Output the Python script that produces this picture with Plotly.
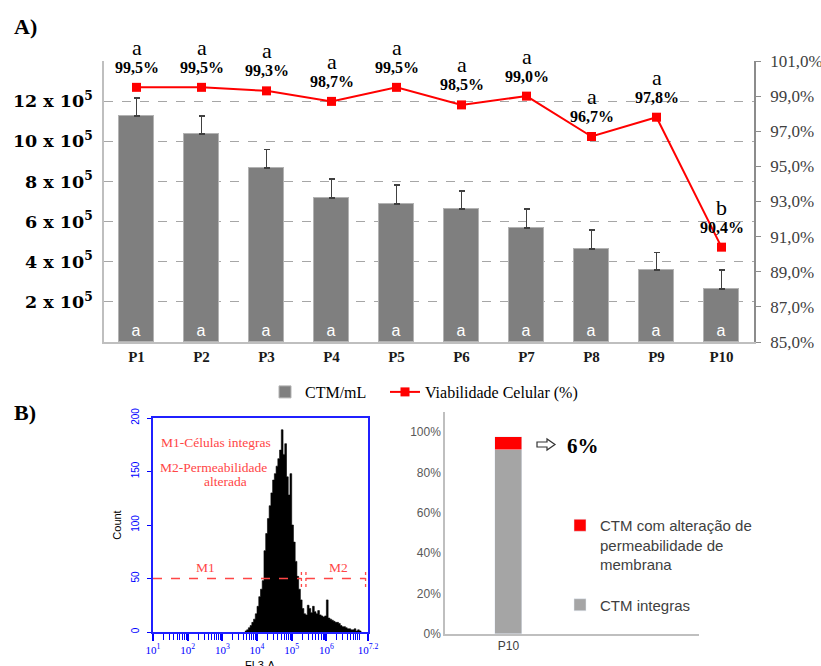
import plotly.graph_objects as go

W, H = 821, 666

# ---------------- data ----------------
categories = ['P1', 'P2', 'P3', 'P4', 'P5', 'P6', 'P7', 'P8', 'P9', 'P10']
ctm_values = [11.27e5, 10.37e5, 8.68e5, 7.18e5, 6.88e5, 6.63e5, 5.68e5, 4.63e5, 3.58e5, 2.63e5]
ctm_err = [0.88e5, 0.90e5, 0.90e5, 0.95e5, 0.94e5, 0.90e5, 0.94e5, 0.94e5, 0.89e5, 0.95e5]
ctm_letters = ['a'] * 10
viab_values = [99.5, 99.5, 99.3, 98.7, 99.5, 98.5, 99.0, 96.7, 97.8, 90.4]
viab_labels = ['99,5%', '99,5%', '99,3%', '98,7%', '99,5%', '98,5%', '99,0%', '96,7%', '97,8%', '90,4%']
viab_letters = ['a', 'a', 'a', 'a', 'a', 'a', 'a', 'a', 'a', 'b']

left_tickvals = [0, 2e5, 4e5, 6e5, 8e5, 10e5, 12e5, 14e5]
left_ticktext = ['', '2 x 10<sup>5</sup>', '4 x 10<sup>5</sup>', '6 x 10<sup>5</sup>',
                 '8 x 10<sup>5</sup>', '10 x 10<sup>5</sup>', '12 x 10<sup>5</sup>', '']
right_tickvals = [85, 87, 89, 91, 93, 95, 97, 99, 101]
right_ticktext = ['85,0%', '87,0%', '89,0%', '91,0%', '93,0%', '95,0%', '97,0%', '99,0%', '101,0%']

# flow cytometry histogram (FL3-A), bins in log10 units
hist_log_start = 3.65
hist_bin_width = 0.05
hist_counts = [1, 2, 4, 6, 9, 12, 17, 24, 33, 40, 48, 76, 92, 106, 118, 130, 142, 148, 155, 162,
               170, 189, 166, 176, 145, 128, 148, 100, 84, 66, 52, 40, 30, 22, 17, 16, 25, 22, 18, 24,
               19, 17, 20, 16, 15, 14, 15, 30, 13, 12, 11, 10, 9, 9, 8, 6, 5, 5, 4, 3,
               3, 2, 2, 3, 1, 2, 1]
hist_tick_exps = [1, 2, 3, 4, 5, 6, 7.2]
hist_tick_text = ['10<sup>1</sup>', '10<sup>2</sup>', '10<sup>3</sup>', '10<sup>4</sup>',
                  '10<sup>5</sup>', '10<sup>6</sup>', '10<sup>7.2</sup>']
gate_level = 50
gate_m1 = [1.0, 5.28]
gate_m2 = [5.41, 7.13]

# membrane permeability (P10)
perm_category = ['P10']
perm_integras = [91.4]
perm_alteradas = [6.0]
perm_tickvals = [0, 20, 40, 60, 80, 100]
perm_ticktext = ['0%', '20%', '40%', '60%', '80%', '100%']


def fx(p):
    return p / W


def fy(p):
    return 1 - p / H


SERIF = 'Liberation Serif'
SANS = 'Liberation Sans'
red = '#ff4646'

fig = go.Figure()

# ---------------- panel A ----------------
fig.add_trace(go.Bar(
    x=categories, y=ctm_values, name='CTM/mL', width=0.55,
    marker=dict(color='#7f7f7f', line=dict(color='#b3b3b3', width=1)),
    error_y=dict(type='data', array=ctm_err, arrayminus=[0] * len(ctm_err), symmetric=False,
                 color='#404040', thickness=1.5, width=3),
    text=ctm_letters, textposition='inside', insidetextanchor='start', textangle=0,
    textfont=dict(color='white', size=16, family=SANS),
    xaxis='x', yaxis='y', legend='legend'))
fig.add_trace(go.Scatter(
    x=categories, y=viab_values, name='Viabilidade Celular (%)', mode='lines+markers',
    line=dict(color='#ff0000', width=2),
    marker=dict(symbol='square', size=9, color='#ff0000'),
    xaxis='x', yaxis='y2', legend='legend3'))

# ---------------- panel B histogram ----------------
edges = [10 ** (hist_log_start + i * hist_bin_width) for i in range(len(hist_counts) + 1)]
fig.add_trace(go.Scatter(
    x=edges, y=hist_counts + [0], mode='lines', line_shape='hv',
    line=dict(color='black', width=0.6), fill='tozeroy', fillcolor='black',
    xaxis='x2', yaxis='y3', showlegend=False, hoverinfo='skip'))

# ---------------- panel B stacked bar ----------------
fig.add_trace(go.Bar(
    x=[0], y=perm_integras, name='CTM integras', width=0.22, legendrank=2,
    marker=dict(color='#a5a5a5'), xaxis='x3', yaxis='y4',
    legend='legend2', legendgroup='g2'))
fig.add_trace(go.Bar(
    x=[0], y=perm_alteradas, name='CTM com alteração de<br>permeabilidade de<br>membrana', width=0.22,
    legendrank=1, marker=dict(color='#ff0000'), xaxis='x3', yaxis='y4',
    legend='legend2', legendgroup='g1'))

annotations = []
for c, v, lab, let in zip(categories, viab_values, viab_labels, viab_letters):
    annotations.append(dict(x=c, y=v, xref='x', yref='y2', text=lab, showarrow=False,
                            xanchor='center', yshift=20,
                            font=dict(family=SERIF, size=16, color='black', weight='bold')))
    annotations.append(dict(x=c, y=v, xref='x', yref='y2', text=let, showarrow=False,
                            xanchor='center', yshift=40, font=dict(family=SERIF, size=22, color='black')))

annotations += [
    dict(x=fx(12), y=fy(26), xref='paper', yref='paper', xanchor='left', yanchor='middle',
         text='A)', showarrow=False, font=dict(family=SERIF, size=22, color='black', weight='bold')),
    dict(x=fx(12), y=fy(412), xref='paper', yref='paper', xanchor='left', yanchor='middle',
         text='B)', showarrow=False, font=dict(family=SERIF, size=22, color='black', weight='bold')),
    dict(x=0.03, y=177, xref='x2 domain', yref='y3', xanchor='left', text='M1-Células integras',
         showarrow=False, font=dict(family=SERIF, size=13.5, color=red)),
    dict(x=0.025, y=154, xref='x2 domain', yref='y3', xanchor='left', text='M2-Permeabilidade',
         showarrow=False, font=dict(family=SERIF, size=13.5, color=red)),
    dict(x=0.335, y=141, xref='x2 domain', yref='y3', xanchor='center', text='alterada', showarrow=False,
         font=dict(family=SERIF, size=13.5, color=red)),
    dict(x=0.242, y=60, xref='x2 domain', yref='y3', xanchor='center', text='M1', showarrow=False,
         font=dict(family=SERIF, size=13.5, color=red)),
    dict(x=0.862, y=60, xref='x2 domain', yref='y3', xanchor='center', text='M2', showarrow=False,
         font=dict(family=SERIF, size=13.5, color=red)),
    dict(x=0.5, y=fy(665), xref='x2 domain', yref='paper', xanchor='center', yanchor='middle',
         text='FL3-A', showarrow=False, font=dict(family=SANS, size=11, color='black')),
    dict(x=fx(583), y=fy(446), xref='paper', yref='paper', xanchor='center', yanchor='middle',
         text='6%', showarrow=False, font=dict(family=SERIF, size=21, color='black', weight='bold')),
]

# hollow right arrow (pixel outline converted to paper coordinates)
arrow_px = [(537, 442), (547, 442), (547, 439), (555, 444.5), (547, 450), (547, 447), (537, 447)]
arrow_path = 'M ' + ' L '.join(f'{fx(px)},{fy(py)}' for px, py in arrow_px) + ' Z'

shapes = [
    dict(type='line', xref='x2', yref='y3', x0=10 ** gate_m1[0], x1=10 ** gate_m1[1], y0=gate_level, y1=gate_level,
         line=dict(color=red, width=1.3, dash='dash')),
    dict(type='line', xref='x2', yref='y3', x0=10 ** gate_m1[1], x1=10 ** gate_m1[1], y0=gate_level - 8, y1=gate_level + 8,
         line=dict(color=red, width=1.3, dash='dot')),
    dict(type='line', xref='x2', yref='y3', x0=10 ** gate_m2[0], x1=10 ** gate_m2[1], y0=gate_level, y1=gate_level,
         line=dict(color=red, width=1.3, dash='dash')),
    dict(type='line', xref='x2', yref='y3', x0=10 ** gate_m2[0], x1=10 ** gate_m2[0], y0=gate_level - 8, y1=gate_level + 8,
         line=dict(color=red, width=1.3, dash='dot')),
    dict(type='line', xref='x2', yref='y3', x0=10 ** gate_m2[1], x1=10 ** gate_m2[1], y0=gate_level - 8, y1=gate_level + 8,
         line=dict(color=red, width=1.3, dash='dot')),
    dict(type='path', xref='paper', yref='paper', path=arrow_path,
         line=dict(color='#333333', width=1.2), fillcolor='white'),
]

minor_vals = [m * 10 ** k for k in range(1, 8) for m in range(2, 10) if m * 10 ** k <= 10 ** 7.2]

fig.update_layout(
    width=W, height=H, margin=dict(l=0, r=0, t=0, b=0, autoexpand=False),
    paper_bgcolor='white', plot_bgcolor='rgba(0,0,0,0)',
    barmode='stack', bargap=0,
    annotations=annotations, shapes=shapes,
    xaxis=dict(domain=[fx(104), fx(754)], anchor='y', type='category', range=[-0.5, 9.5], automargin=False,
               showline=True, linecolor='#bfbfbf', linewidth=1.5, ticks='', showgrid=False,
               tickfont=dict(family=SERIF, size=15, color='#1a1a1a', weight='bold')),
    yaxis=dict(domain=[fy(342), fy(61)], anchor='x', range=[0, 14e5], automargin=False,
               tickmode='array', tickvals=left_tickvals, ticktext=left_ticktext,
               tickfont=dict(family='DejaVu Serif', size=17.5, color='black', weight='bold'),
               showgrid=True, gridcolor='#a6a6a6', griddash='dash', gridwidth=1,
               showline=True, linecolor='#bfbfbf', linewidth=1.5, zeroline=False, ticks='',
               ticklabelstandoff=6),
    yaxis2=dict(overlaying='y', side='right', anchor='x', range=[85, 101], automargin=False,
                tickmode='array', tickvals=right_tickvals, ticktext=right_ticktext,
                tickfont=dict(family=SERIF, size=17, color='#404040'),
                showgrid=False, zeroline=False, showline=True, linecolor='#8c8c8c', linewidth=1.5,
                ticks='outside', ticklen=5, tickcolor='#8c8c8c', ticklabelstandoff=6),
    xaxis2=dict(domain=[fx(153), fx(368)], anchor='y3', type='log', range=[1, 7.2], automargin=False,
                tickmode='array', tickvals=[10 ** e for e in hist_tick_exps],
                ticktext=hist_tick_text,
                tickfont=dict(family=SERIF, size=11, color='#0000ff'),
                ticks='outside', ticklen=7, tickcolor='#0000ff', tickwidth=1.5,
                minor=dict(tickvals=minor_vals, ticks='outside', ticklen=6, tickcolor='#0000ff', tickwidth=1),
                showline=True, linecolor='#2020ff', linewidth=1.5, mirror=True, showgrid=False, zeroline=False),
    yaxis3=dict(domain=[fy(632), fy(418)], anchor='x2', range=[0, 200], automargin=False,
                tickmode='array', tickvals=[0, 50, 100, 150, 200], tickangle=-90,
                tickfont=dict(family=SANS, size=10, color='#0000ff'),
                ticks='outside', ticklen=4, tickcolor='#0000ff', ticklabelstandoff=4,
                showline=True, linecolor='#2020ff', linewidth=1.5, mirror=True, showgrid=False, zeroline=False,
                title=dict(text='Count', font=dict(family=SANS, size=11, color='black'), standoff=6)),
    xaxis3=dict(domain=[fx(445), fx(699)], anchor='y4', range=[-0.5, 1.5], automargin=False,
                tickmode='array', tickvals=[0], ticktext=perm_category,
                tickfont=dict(family=SANS, size=12, color='#404040'),
                showline=True, linecolor='#bfbfbf', linewidth=1.5, ticks='', showgrid=False, zeroline=False),
    yaxis4=dict(domain=[fy(634), fy(412)], anchor='x3', range=[0, 110], automargin=False,
                tickmode='array', tickvals=perm_tickvals, ticktext=perm_ticktext,
                tickfont=dict(family=SANS, size=12, color='#595959'),
                showline=True, linecolor='#bfbfbf', linewidth=1.5, ticks='', showgrid=False, zeroline=False),
    legend=dict(orientation='h', x=fx(265), y=fy(392), xanchor='left', yanchor='middle',
                font=dict(family=SERIF, size=16, color='black'), bgcolor='rgba(0,0,0,0)'),
    legend3=dict(orientation='h', x=fx(385), y=fy(392), xanchor='left', yanchor='middle',
                 font=dict(family=SERIF, size=16, color='black'), bgcolor='rgba(0,0,0,0)'),
    legend2=dict(x=fx(560), y=fy(509), xanchor='left', yanchor='top',
                 font=dict(family=SANS, size=15, color='#404040'), bgcolor='rgba(0,0,0,0)',
                 traceorder='grouped', tracegroupgap=18, valign='top'),
    showlegend=True,
)

fig.write_html('out.html', config={'displayModeBar': False},
               post_script="document.body.style.margin='0px';")
